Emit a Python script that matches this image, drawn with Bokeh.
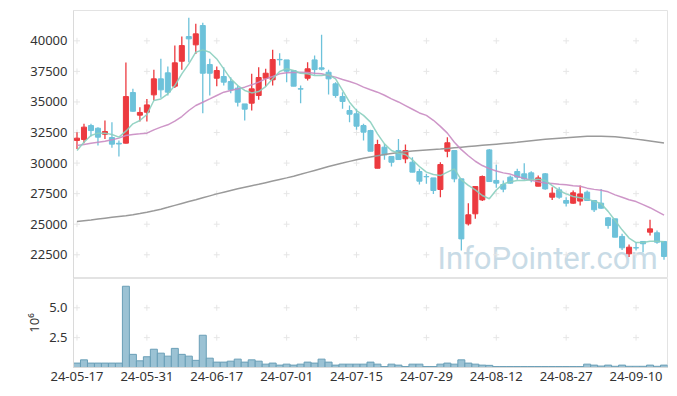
import numpy as np
from bokeh.plotting import figure
from bokeh.layouts import column
from bokeh.models import Range1d, FixedTicker, Label, NumeralTickFormatter
from bokeh.embed import file_html
from bokeh.resources import INLINE

dates = [
    "2024-05-17", "2024-05-20", "2024-05-21", "2024-05-22", "2024-05-23", "2024-05-24",
    "2024-05-27", "2024-05-28", "2024-05-29", "2024-05-30", "2024-05-31",
    "2024-06-03", "2024-06-04", "2024-06-05", "2024-06-07",
    "2024-06-10", "2024-06-11", "2024-06-12", "2024-06-13", "2024-06-14",
    "2024-06-17", "2024-06-18", "2024-06-19", "2024-06-20", "2024-06-21",
    "2024-06-24", "2024-06-25", "2024-06-26", "2024-06-27", "2024-06-28",
    "2024-07-01", "2024-07-02", "2024-07-03", "2024-07-04", "2024-07-05",
    "2024-07-08", "2024-07-09", "2024-07-10", "2024-07-11", "2024-07-12",
    "2024-07-15", "2024-07-16", "2024-07-17", "2024-07-18", "2024-07-19",
    "2024-07-22", "2024-07-23", "2024-07-24", "2024-07-25", "2024-07-26",
    "2024-07-29", "2024-07-30", "2024-07-31", "2024-08-01", "2024-08-02",
    "2024-08-05", "2024-08-06", "2024-08-07", "2024-08-08", "2024-08-09",
    "2024-08-12", "2024-08-13", "2024-08-14", "2024-08-16",
    "2024-08-19", "2024-08-20", "2024-08-21", "2024-08-22", "2024-08-23",
    "2024-08-26", "2024-08-27", "2024-08-28", "2024-08-29", "2024-08-30",
    "2024-09-02", "2024-09-03", "2024-09-04", "2024-09-05", "2024-09-06",
    "2024-09-09", "2024-09-10", "2024-09-11", "2024-09-12", "2024-09-13",
    "2024-09-19",
]

open_ = [31850, 31930, 33070, 32850, 32360, 32090, 31620, 31630, 35770, 33920,
         34160, 35580, 36890, 37380, 36290, 38330, 40350, 39670, 41250, 38060,
         36940, 37080, 36670, 36130, 34840, 34900, 35530, 36940, 36810, 38480,
         38440, 37570, 36080, 36940, 38440, 37790, 37430, 36480, 35440, 34300,
         34030, 33070, 32660, 29580, 31300, 30540, 31030, 30350, 30070, 29310,
         28900, 28790, 27840, 30970, 31030, 28710, 25030, 25850, 26990, 31080,
         28580, 28250, 28850, 29310, 29120, 29200, 28110, 29120, 27210, 27810,
         26940, 26720, 26890, 27620, 26940, 26720, 25520, 25440, 24000, 22580,
         23080, 23590, 24350, 24300, 23590]
high = [32530, 33210, 33210, 32940, 33480, 33350, 31850, 38230, 36070, 34570,
        35250, 37630, 38530, 37900, 39610, 40350, 41880, 41390, 41470, 38530,
        37900, 37840, 37030, 36340, 34840, 37300, 37840, 37710, 39260, 38990,
        38440, 37570, 36340, 38250, 38800, 40490, 37630, 36620, 35800, 34710,
        34440, 33210, 32720, 31900, 31570, 30540, 31980, 31520, 30480, 29530,
        29120, 28790, 30070, 32120, 31030, 28710, 26720, 28080, 28980, 31160,
        29860, 28580, 28980, 29530, 29990, 29340, 28980, 29180, 28030, 28030,
        27210, 27760, 28170, 27760, 26990, 27890, 25580, 25440, 24210, 23340,
        23530, 23590, 25360, 24490, 23590]
low = [31160, 31630, 32170, 31440, 31980, 31250, 30540, 31600, 34200, 33400,
       33400, 35120, 35340, 35530, 36150, 37630, 38250, 38930, 34080, 35530,
       36290, 36340, 35720, 34630, 33480, 34300, 35170, 36260, 36340, 37980,
       36620, 36290, 34900, 36750, 37220, 37570, 35610, 35340, 34440, 33350,
       32720, 31850, 30970, 29580, 30270, 29720, 30290, 29990, 29260, 28250,
       28300, 27480, 27210, 30480, 28440, 22850, 24890, 25440, 26890, 28490,
       27980, 27620, 28300, 28630, 28630, 28440, 28110, 27810, 26990, 27080,
       26450, 26670, 26530, 26940, 25990, 26260, 24620, 23940, 22900, 22310,
       22850, 22710, 24080, 23400, 22090]
close = [32040, 32940, 32660, 32120, 32580, 31550, 31560, 35440, 34240, 34140,
         34760, 36890, 35990, 35800, 38200, 39610, 40160, 40570, 37350, 37350,
         37570, 36620, 35990, 34980, 34410, 36070, 37000, 37350, 38470, 38450,
         37520, 36290, 36050, 37710, 37650, 37680, 36890, 35530, 35040, 34000,
         33020, 32530, 30970, 31520, 30670, 30070, 30290, 31030, 29260, 28520,
         28880, 27760, 29880, 31660, 28710, 23800, 25770, 28080, 28900, 28490,
         28360, 27870, 28360, 28850, 28710, 28710, 28790, 27890, 27540, 27210,
         26720, 27570, 27480, 26940, 26180, 26310, 24890, 23940, 23070, 23120,
         23060, 23400, 24620, 23530, 22360]

ma5 = [31030, 31710, 32250, 32450, 32450, 32340, 32120, 32610, 33210, 33480,
       33970, 35120, 35250, 35660, 36340, 37300, 38120, 39070, 39260, 39070,
       38520, 37710, 36890, 36340, 35940, 35740, 35850, 36260, 36890, 37490,
       37710, 37570, 37350, 37300, 37160, 37160, 37240, 36890, 35940, 34980,
       34300, 33900, 33350, 32390, 31570, 31030, 30810, 30700, 30270, 29720,
       29260, 29070, 28980, 29260, 29530, 28630, 28170, 27810, 27350, 27080,
       27800, 28300, 28470, 28580, 28580, 28630, 28680, 28580, 28150, 27760,
       27480, 27270, 27160, 27050, 26890, 26670, 26050, 25300, 24540, 23870,
       23500, 23500, 23610, 23610, 23570]
ma20 = [31440, 31520, 31630, 31710, 31790, 31900, 32040, 32250, 32340, 32390,
        32450, 32720, 32940, 33130, 33430, 33810, 34300, 34710, 34980, 35250,
        35530, 35800, 35940, 36070, 36210, 36400, 36620, 36890, 37080, 37300,
        37380, 37410, 37430, 37410, 37350, 37300, 37160, 37030, 36830, 36670,
        36480, 36210, 36000, 35800, 35550, 35250, 35000, 34700, 34400, 34100,
        33900, 33500, 33000, 32450, 31700, 31100, 30600, 30150, 29800, 29550,
        29350, 29200, 29100, 28900, 28750, 28600, 28480, 28380, 28330, 28260,
        28220, 28150, 28100, 27950, 27850, 27780, 27650, 27400, 27200, 27000,
        26850, 26600, 26350, 26050, 25750]
ma120 = [25220, 25290, 25350, 25420, 25490, 25560, 25630, 25700, 25780, 25870,
         25980, 26100, 26230, 26380, 26540, 26700, 26850, 27000, 27160, 27320,
         27480, 27620, 27760, 27900, 28030, 28150, 28270, 28400, 28530, 28660,
         28790, 28930, 29080, 29240, 29400, 29560, 29720, 29870, 30000, 30140,
         30270, 30400, 30500, 30600, 30700, 30790, 30870, 30930, 30980, 31030,
         31070, 31110, 31150, 31200, 31250, 31300, 31350, 31400, 31450, 31500,
         31550, 31600, 31650, 31700, 31760, 31820, 31880, 31940, 31990, 32040,
         32080, 32120, 32160, 32190, 32200, 32200, 32180, 32150, 32100, 32030,
         31960, 31880, 31800, 31720, 31640]

volume = [370000, 640000, 370000, 370000, 370000, 370000, 370000, 6800000, 1100000, 560000,
          900000, 1530000, 1200000, 950000, 1600000, 1100000, 950000, 600000, 2700000, 780000,
          450000, 450000, 530000, 700000, 450000, 640000, 530000, 280000, 370000, 200000,
          280000, 200000, 280000, 450000, 370000, 700000, 450000, 200000, 280000, 280000,
          280000, 280000, 450000, 280000, 80000, 280000, 200000, 80000, 280000, 280000,
          80000, 80000, 280000, 370000, 280000, 640000, 370000, 280000, 200000, 180000,
          80000, 80000, 80000, 80000, 80000, 80000, 80000, 80000, 80000, 80000,
          80000, 80000, 80000, 280000, 200000, 120000, 200000, 100000, 200000, 100000,
          100000, 100000, 200000, 100000, 200000]

price_ticks = [22500, 25000, 27500, 30000, 32500, 35000, 37500, 40000]
volume_ticks = [2.5, 5.0]

FONT = "Noto Sans"
RED = "#ec3a3f"
BLUE = "#6dc2da"
GRIDC = "#e6e6e6"

n = len(dates)
idx = np.arange(n)
o = np.array(open_, dtype=float)
c = np.array(close, dtype=float)
colors = [RED if cc >= oo else BLUE for oo, cc in zip(o, c)]
top = np.maximum(o, c)
bot = np.minimum(o, c)
tick_idx = list(idx[::10])

# ---------------- price panel ----------------
p = figure(width=669, height=278, output_backend="svg", toolbar_location=None,
           x_range=Range1d(-0.5, n - 0.5), y_range=Range1d(20560, 42480),
           x_axis_location=None,
           min_border_left=73, min_border_right=2, min_border_top=10, min_border_bottom=0)
p.grid.visible = False
p.outline_line_color = "#e3e3e3"

ya = p.yaxis[0]
ya.ticker = FixedTicker(ticks=price_ticks)
ya.major_tick_out = 0
ya.major_tick_in = 0
ya.minor_tick_out = 0
ya.minor_tick_in = 0
ya.axis_line_color = "#dadada"
ya.major_label_standoff = 6
ya.major_label_text_font = FONT
ya.major_label_text_font_size = "13px"
ya.major_label_text_color = "#333333"

gx, gy = np.meshgrid(tick_idx, price_ticks)
p.scatter(gx.ravel(), gy.ravel(), marker="cross", size=6, line_color=GRIDC, line_width=1)

wm = Label(x=83.1, y=22180, text="InfoPointer.com", text_align="right",
           text_baseline="middle", text_font="Roboto", text_font_size="31px",
           text_color="#c8dbe6", level="underlay")
p.add_layout(wm)

p.segment(idx, high, idx, low, line_color=colors, line_width=1.3)
p.vbar(x=idx, width=0.72, top=top, bottom=bot, fill_color=colors, line_color=colors, line_width=1)

p.line(idx, ma120, line_color="#9a9a9a", line_width=1.5)
p.line(idx, ma20, line_color="#c98bc2", line_width=1.5, line_alpha=0.9)
p.line(idx, ma5, line_color="#8bcfbf", line_width=1.5, line_alpha=0.9)

# ---------------- volume panel ----------------
v = figure(width=669, height=115, output_backend="svg", toolbar_location=None,
           x_range=p.x_range, y_range=Range1d(0, 7.45),
           min_border_left=73, min_border_right=2, min_border_top=0, min_border_bottom=26)
v.grid.visible = False
v.outline_line_color = "#e3e3e3"

vol_m = np.array(volume, dtype=float) / 1e6
gvx, gvy = np.meshgrid(tick_idx, volume_ticks)
v.scatter(gvx.ravel(), gvy.ravel(), marker="cross", size=6, line_color=GRIDC, line_width=1)
v.vbar(x=idx, width=1.0, top=vol_m, bottom=0, fill_color="#9bc2d4", line_color="#6a9fb7", line_width=1)

vy = v.yaxis[0]
vy.ticker = FixedTicker(ticks=volume_ticks)
vy.formatter = NumeralTickFormatter(format="0.0")
vy.major_tick_out = 0
vy.major_tick_in = 0
vy.minor_tick_out = 0
vy.minor_tick_in = 0
vy.axis_line_color = "#dadada"
vy.major_label_standoff = 6
vy.major_label_text_font = FONT
vy.major_label_text_font_size = "13px"
vy.major_label_text_color = "#333333"
vy.axis_label = "10\u2076"
vy.axis_label_text_font = FONT
vy.axis_label_text_font_size = "13px"
vy.axis_label_text_font_style = "normal"
vy.axis_label_text_color = "#333333"
vy.axis_label_standoff = 3

vx = v.xaxis[0]
vx.ticker = FixedTicker(ticks=tick_idx)
vx.major_label_overrides = {int(i): dates[i][2:] for i in tick_idx}
vx.major_tick_out = 0
vx.major_tick_in = 0
vx.minor_tick_out = 0
vx.minor_tick_in = 0
vx.axis_line_color = "#dadada"
vx.major_label_standoff = 4
vx.major_label_text_font = FONT
vx.major_label_text_font_size = "13px"
vx.major_label_text_color = "#333333"

layout = column(p, v, spacing=0)
open("out.html", "w").write(file_html(layout, INLINE))
